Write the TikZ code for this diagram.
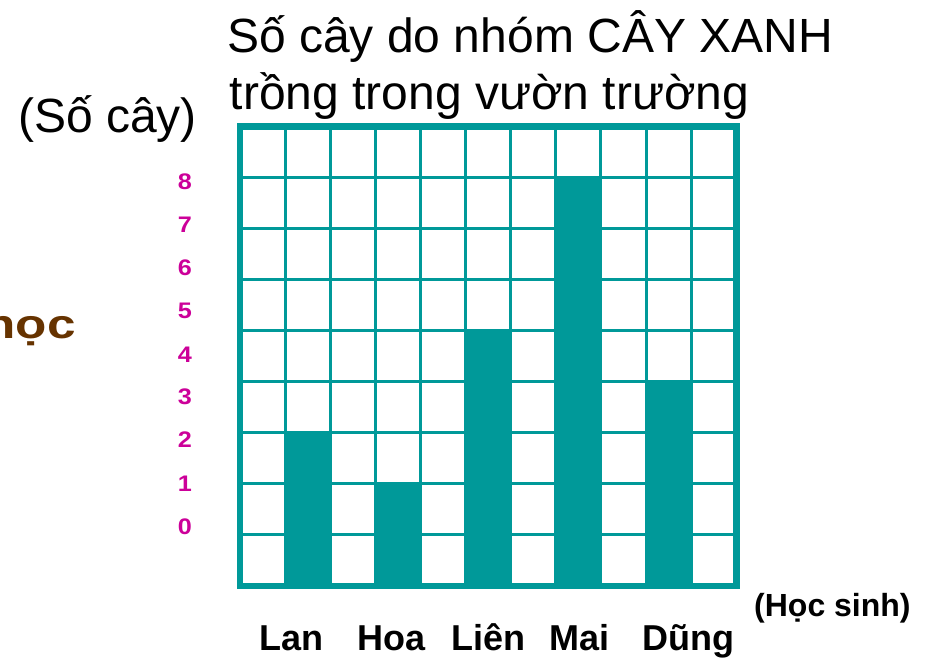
\documentclass[tikz,border=0pt]{standalone}
\usepackage{fontspec}
\setmainfont{Liberation Sans}
\newfontfamily\widebold[FakeStretch=1.12]{Liberation Sans Bold}
\newfontfamily\widerbold[FakeStretch=1.25]{Liberation Sans Bold}
\definecolor{teal}{HTML}{009999}
\definecolor{mag}{HTML}{CC0099}
\definecolor{brown}{HTML}{663300}
\begin{document}
\begin{tikzpicture}[x=1pt,y=-1pt,
  gridline/.style={draw=teal,line width=3pt},
  frameline/.style={draw=teal,line width=6.6pt},
  barfill/.style={fill=teal},
  title/.style={inner sep=0pt,anchor=base west,font=\fontsize{48}{56}\selectfont},
  namelabel/.style={inner sep=0pt,anchor=base west,font=\bfseries\fontsize{36}{42}\selectfont},
  numlabel/.style={inner sep=0pt,anchor=center,text=mag,font=\widebold\fontsize{22.5}{26}\selectfont}]
\useasboundingbox (0,0) rectangle (928,658);
\clip (0,0) rectangle (928,658);
\def\gx{240}\def\gy{126.3}\def\px{45.12}\def\py{51.08}
% grid lines
\foreach \i in {1,...,10} \draw[gridline] ({\gx+\i*\px},\gy) -- ({\gx+\i*\px},{\gy+9*\py});
\foreach \j in {1,...,8} \draw[gridline] (\gx,{\gy+\j*\py}) -- ({\gx+11*\px},{\gy+\j*\py});
% bars
\foreach \c/\h in {1/3,3/2,5/5,7/8,9/4}
  \fill[barfill] ({\gx+\c*\px-1.5},{\gy+9*\py}) rectangle ({\gx+(\c+1)*\px+1.5},{\gy+(9-\h)*\py-1.5});
% frame
\draw[frameline] (\gx,\gy) rectangle ({\gx+11*\px},{\gy+9*\py});
% titles
\node[title] (t1) at (227,52.5) {Số cây do nhóm CÂY XANH};
\node[title] (t2) at (229.5,109.5) {trồng trong vườn trường};
\node[title] (ylab) at (18,132) {(Số cây)};
\node[inner sep=0pt,anchor=base west,font=\bfseries\fontsize{32}{36}\selectfont] (xlab) at (754,616) {(Học sinh)};
\node[inner sep=0pt,anchor=base east,text=brown,font=\widerbold\fontsize{41}{48}\selectfont] (hoc) at (76,338.3) {học};
% names
\node[namelabel] (lan) at (259,650) {Lan};
\node[namelabel] (hoa) at (357,650) {Hoa};
\node[namelabel] (lien) at (451,650) {Liên};
\node[namelabel] (mai) at (549.5,650) {Mai};
\node[namelabel] (dung) at (642.5,650) {Dũng};
% numbers
\foreach \n/\yy in {8/181.3,7/224.7,6/267.3,5/310.7,4/355,3/396.7,2/440,1/483.3,0/526.7}
  \node[numlabel] (n\n) at (185,\yy) {\n};
\end{tikzpicture}
\end{document}
